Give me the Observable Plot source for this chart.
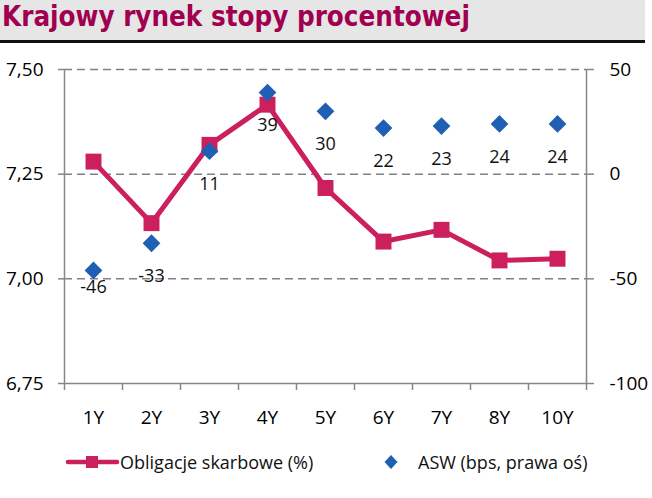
<!DOCTYPE html>
<html><head><meta charset="utf-8">
<script src="https://cdn.jsdelivr.net/npm/d3@7"></script>
<script src="https://cdn.jsdelivr.net/npm/@observablehq/plot@0.6"></script>
<style>
html,body{margin:0;padding:0;background:#fff;}
body{width:652px;height:498px;overflow:hidden;position:relative;font-family:"Open Sans",sans-serif;}
#title{position:absolute;left:0;top:0;width:645px;height:40px;background:#e6e6e6;border-bottom:3px solid #111;}
#title span{position:absolute;left:2px;top:0px;line-height:32px;font-family:"DejaVu Sans Condensed","DejaVu Sans",sans-serif;font-weight:bold;font-size:27.5px;color:#a0004f;white-space:nowrap;}
#chart{position:absolute;left:0;top:43px;}
.lg{position:absolute;top:450px;font-size:18px;line-height:24px;color:#111;white-space:nowrap;}
</style>
</head><body>
<div id="title"><span>Krajowy rynek stopy procentowej</span></div>
<div id="chart"></div>
<svg style="position:absolute;left:0;top:450px" width="652" height="24">
  <line x1="68" x2="117" y1="12" y2="12" stroke="#cc1f5e" stroke-width="4.5" stroke-linecap="round"/>
  <rect x="86" y="6" width="12" height="12" fill="#cc1f5e"/>
  <path d="M391,5 L397.5,12 L391,19 L384.5,12 Z" fill="#1f5fb4"/>
</svg>
<div class="lg" style="left:120px">Obligacje skarbowe (%)</div>
<div class="lg" style="left:418px">ASW (bps, prawa oś)</div>
<script>
const categories = ["1Y","2Y","3Y","4Y","5Y","6Y","7Y","8Y","10Y"];
const bondYield = [7.280, 7.133, 7.320, 7.416, 7.217, 7.089, 7.117, 7.044, 7.048];
const asw = [-46, -33, 11, 39, 30, 22, 23, 24, 24];
const leftTicks = [6.75, 7.00, 7.25, 7.50];
const rightTicks = [-100, -50, 0, 50];

// right axis (bps) mapped onto left axis (%) : 0 bps -> 7.25, 50 bps -> 0.25
const toLeft = v => 7.25 + v / 200;
const fromLeft = y => Math.round((y - 7.25) * 200);

const data = categories.map((c, i) => ({i, cat: c, yield: bondYield[i], asw: asw[i], aswY: toLeft(asw[i])}));
const bounds = d3.range(categories.length + 1).map(k => k - 0.5);

const red = "#cc1f5e", blue = "#1f5fb4", axisGray = "#868686";

const chart = Plot.plot({
  width: 652, height: 400,
  marginLeft: 64, marginRight: 66, marginTop: 26, marginBottom: 60,
  x: {type: "linear", domain: [-0.5, categories.length - 0.5]},
  y: {domain: [6.75, 7.5]},
  style: {fontFamily: "'Open Sans', sans-serif", fontSize: "19px", color: "#000", background: "transparent"},
  marks: [
    Plot.ruleY(leftTicks.filter(t => t > 6.75), {stroke: "#808080", strokeWidth: 1.5, strokeDasharray: "8,5"}),
    Plot.ruleX([bounds[0], bounds[bounds.length - 1]], {stroke: axisGray, strokeWidth: 1.5}),
    Plot.ruleY([6.75], {stroke: axisGray, strokeWidth: 1.5}),
    Plot.axisY({ticks: leftTicks, anchor: "left", tickSize: 6, tickPadding: 15, stroke: axisGray, strokeWidth: 1.5, fill: "#000",
      tickFormat: d => d.toFixed(2).replace(".", ","), label: null}),
    Plot.axisY({ticks: rightTicks.map(toLeft), anchor: "right", tickSize: 7, tickPadding: 16, stroke: axisGray, strokeWidth: 1.5, fill: "#000",
      tickFormat: d => String(fromLeft(d)), label: null}),
    Plot.axisX({ticks: bounds, tickSize: 7, stroke: axisGray, strokeWidth: 1.5, tickFormat: () => "", label: null}),
    Plot.axisX({ticks: d3.range(categories.length), tickSize: 0, tickPadding: 27, fill: "#000",
      tickFormat: i => categories[i], label: null}),
    Plot.line(data, {x: "i", y: "yield", stroke: red, strokeWidth: 5}),
    Plot.dot(data, {x: "i", y: "yield", symbol: "square", r: 9, fill: red, stroke: null}),
    Plot.dot(data, {x: "i", y: "aswY", symbol: "diamond2", r: 8, fill: blue, stroke: null}),
    Plot.text(data.filter(d => d.i === 0), {x: "i", y: "aswY", text: d => String(d.asw), dy: 17, fontSize: 18, fill: "#111"}),
    Plot.text(data.filter(d => d.i > 0), {x: "i", y: "aswY", text: d => String(d.asw), dy: 33, fontSize: 18, fill: "#111"})
  ]
});
document.getElementById("chart").appendChild(chart);
</script>
</body></html>
